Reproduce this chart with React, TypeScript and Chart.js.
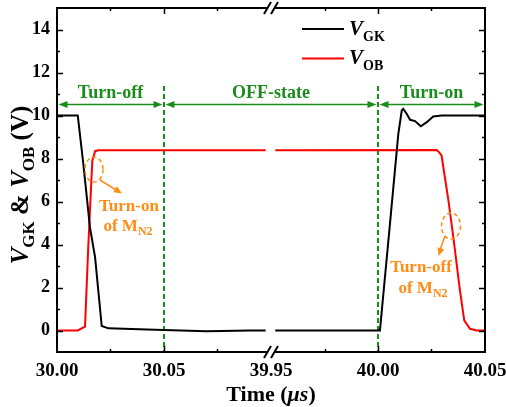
import React, { useEffect, useRef } from "react";
import { Chart, registerables } from "chart.js";
Chart.register(...registerables);

// ---- data (time in µs, voltage in V) ----
const tickTimes = [30.0, 30.05, 39.95, 40.0, 40.05];
const tickLabels = ["30.00", "30.05", "39.95", "40.00", "40.05"];
const minorTimes = [30.025, 30.075, 39.975, 40.025];
const yMajorTicks = [0, 2, 4, 6, 8, 10, 12, 14];
const yMinorTicks = [1, 3, 5, 7, 9, 11, 13];
const breakTime = 39.95;

const blackTimes = [30.0, 30.0097, 30.0123, 30.0154, 30.0178, 30.0209, 30.024, 30.0458, 30.07, 30.09, 30.0975, null,
  39.952, 40.0009, 40.0056, 40.0095, 40.0111, 40.0118, 40.0134, 40.015, 40.0173, 40.02, 40.0228, 40.0258, 40.0298, 40.05];
const blackVolts = [10, 10, 7.75, 4.8, 3.4, 0.21, 0.1, 0.03, -0.04, 0, 0, null,
  0, 0, 4.97, 9.15, 10.23, 10.31, 10.08, 9.8, 9.74, 9.5, 9.69, 9.95, 10.0, 10.0];
const redTimes = [30.0, 30.0097, 30.0131, 30.0146, 30.0165, 30.0178, 30.0193, 30.0975, null,
  39.952, 40.0274, 40.0285, 40.0297, 40.0329, 40.0352, 40.0383, 40.0403, 40.043, 40.0461, 40.05];
const redVolts = [0, 0, 0.18, 3.87, 7.9, 8.34, 8.38, 8.38, null,
  8.38, 8.4, 8.3, 8.14, 6.05, 4.34, 1.86, 0.47, 0.08, 0, 0];

const phaseBounds = [30.0, 30.05, 40.0, 40.05];
const phaseLabels = ["Turn-off", "OFF-state", "Turn-on"];

const SERIF = '"Liberation Serif", "Times New Roman", serif';
const GREEN = "#1a8c1a";
const ORANGE = "#ff8c14";

function toAxis(t: number) {
  return t < 35 ? t - 30 : t - 39.85;
}

function series(times: (number | null)[], volts: (number | null)[]) {
  return times.map((t, i) =>
    t === null ? { x: toAxis(breakTime), y: null } : { x: toAxis(t), y: volts[i] }
  );
}

type Part = { t: string; f: string; dy?: number };
function drawRich(ctx: CanvasRenderingContext2D, parts: Part[], x: number, y: number, align: string, color: string) {
  let w = 0;
  for (const p of parts) { ctx.font = p.f; w += ctx.measureText(p.t).width; }
  let cx = align === "center" ? x - w / 2 : align === "left" ? x : x - w;
  ctx.textBaseline = "alphabetic";
  ctx.textAlign = "left";
  ctx.fillStyle = color;
  for (const p of parts) {
    ctx.font = p.f;
    ctx.fillText(p.t, cx, y + (p.dy || 0));
    cx += ctx.measureText(p.t).width;
  }
}

function arrowHead(ctx: CanvasRenderingContext2D, x1: number, y1: number, x2: number, y2: number, len: number, half: number, color: string) {
  const a = Math.atan2(y2 - y1, x2 - x1);
  ctx.fillStyle = color;
  ctx.beginPath();
  ctx.moveTo(x2, y2);
  ctx.lineTo(x2 - len * Math.cos(a) + half * Math.sin(a), y2 - len * Math.sin(a) - half * Math.cos(a));
  ctx.lineTo(x2 - len * Math.cos(a) - half * Math.sin(a), y2 - len * Math.sin(a) + half * Math.cos(a));
  ctx.closePath();
  ctx.fill();
}

const overlay = {
  id: "overlay",
  beforeDatasetsDraw(chart: any) {
    const ctx = chart.ctx as CanvasRenderingContext2D;
    const xs = chart.scales.x;
    const { bottom } = chart.chartArea;
    ctx.save();
    ctx.strokeStyle = GREEN;
    ctx.lineWidth = 2;
    ctx.setLineDash([5, 3]);
    for (const t of [phaseBounds[1], phaseBounds[2]]) {
      const px = Math.round(xs.getPixelForValue(toAxis(t)));
      ctx.beginPath();
      ctx.moveTo(px, 86);
      ctx.lineTo(px, bottom);
      ctx.stroke();
    }
    ctx.restore();
  },
  afterDraw(chart: any) {
    const ctx = chart.ctx as CanvasRenderingContext2D;
    const xs = chart.scales.x;
    const ys = chart.scales.y;
    const { left, right, top, bottom } = chart.chartArea;
    ctx.save();
    // frame
    ctx.strokeStyle = "#000";
    ctx.lineWidth = 2;
    ctx.setLineDash([]);
    ctx.beginPath();
    ctx.moveTo(left, top - 1); ctx.lineTo(left, bottom + 1);
    ctx.moveTo(right, top - 1); ctx.lineTo(right, bottom + 1);
    ctx.moveTo(left - 1, top); ctx.lineTo(right + 1, top);
    ctx.moveTo(left - 1, bottom); ctx.lineTo(right + 1, bottom);
    ctx.stroke();
    // y ticks
    ctx.lineWidth = 1.5;
    ctx.beginPath();
    for (const v of yMajorTicks) {
      const py = Math.round(ys.getPixelForValue(v)) + 0.5;
      ctx.moveTo(left, py); ctx.lineTo(left + 6, py);
      ctx.moveTo(right, py); ctx.lineTo(right - 6, py);
    }
    for (const v of yMinorTicks) {
      const py = Math.round(ys.getPixelForValue(v)) + 0.5;
      ctx.moveTo(left, py); ctx.lineTo(left + 3, py);
      ctx.moveTo(right, py); ctx.lineTo(right - 3, py);
    }
    // x ticks
    for (const t of tickTimes) {
      if (t === breakTime || t === tickTimes[0] || t === tickTimes[tickTimes.length - 1]) continue;
      const px = Math.round(xs.getPixelForValue(toAxis(t))) + 0.5;
      ctx.moveTo(px, bottom); ctx.lineTo(px, bottom - 6);
      ctx.moveTo(px, top); ctx.lineTo(px, top + 6);
    }
    for (const t of minorTimes) {
      const px = Math.round(xs.getPixelForValue(toAxis(t))) + 0.5;
      ctx.moveTo(px, bottom); ctx.lineTo(px, bottom - 3);
      ctx.moveTo(px, top); ctx.lineTo(px, top + 3);
    }
    ctx.stroke();
    // break marks
    const bx = xs.getPixelForValue(toAxis(breakTime));
    for (const by of [top, bottom]) {
      ctx.fillStyle = "#fff";
      ctx.fillRect(bx - 3, by - 2, 6, 4);
      ctx.strokeStyle = "#000";
      ctx.lineWidth = 2;
      ctx.beginPath();
      for (const dx of [-3.5, 3.5]) {
        ctx.moveTo(bx + dx - 3.5, by + 6);
        ctx.lineTo(bx + dx + 3.5, by - 6);
      }
      ctx.stroke();
    }
    // phase arrows
    const ay = 104.5;
    ctx.strokeStyle = GREEN;
    ctx.lineWidth = 1.5;
    for (let i = 0; i < phaseLabels.length; i++) {
      const x1 = xs.getPixelForValue(toAxis(phaseBounds[i])) + 1.5;
      const x2 = xs.getPixelForValue(toAxis(phaseBounds[i + 1])) - 1.5;
      ctx.beginPath();
      ctx.moveTo(x1 + 4, ay); ctx.lineTo(x2 - 4, ay);
      ctx.stroke();
      arrowHead(ctx, x2, ay, x1, ay, 9, 3.5, GREEN);
      arrowHead(ctx, x1, ay, x2, ay, 9, 3.5, GREEN);
      drawRich(ctx, [{ t: phaseLabels[i], f: `bold 18px ${SERIF}` }], (x1 + x2) / 2, 98, "center", GREEN);
    }
    // orange annotations
    ctx.strokeStyle = ORANGE;
    ctx.lineWidth = 1.5;
    ctx.setLineDash([4, 3]);
    ctx.beginPath(); ctx.ellipse(94, 169.5, 9, 12.5, 0, 0, Math.PI * 2); ctx.stroke();
    ctx.beginPath(); ctx.ellipse(451, 226, 9.5, 13, 0, 0, Math.PI * 2); ctx.stroke();
    ctx.setLineDash([]);
    ctx.beginPath(); ctx.moveTo(100, 180); ctx.lineTo(117, 190.5); ctx.stroke();
    arrowHead(ctx, 100, 180, 122, 193.5, 8, 3.5, ORANGE);
    ctx.beginPath(); ctx.moveTo(445, 236); ctx.lineTo(440, 250); ctx.stroke();
    arrowHead(ctx, 445, 236, 438.5, 256, 8, 3.5, ORANGE);
    const of = `bold 17px ${SERIF}`;
    const sub = `bold 12px ${SERIF}`;
    drawRich(ctx, [{ t: "Turn-on", f: of }], 129, 211, "center", ORANGE);
    drawRich(ctx, [{ t: "of M", f: of }, { t: "N2", f: sub, dy: 4 }], 128, 231, "center", ORANGE);
    drawRich(ctx, [{ t: "Turn-off", f: of }], 421, 272, "center", ORANGE);
    drawRich(ctx, [{ t: "of M", f: of }, { t: "N2", f: sub, dy: 4 }], 423, 293, "center", ORANGE);
    // legend
    ctx.lineWidth = 2;
    ctx.strokeStyle = "#000";
    ctx.beginPath(); ctx.moveTo(302, 29); ctx.lineTo(344, 29); ctx.stroke();
    ctx.strokeStyle = "#ff0000";
    ctx.beginPath(); ctx.moveTo(302, 58.5); ctx.lineTo(344, 58.5); ctx.stroke();
    const lv = `italic bold 21px ${SERIF}`;
    const ls = `bold 14px ${SERIF}`;
    drawRich(ctx, [{ t: "V", f: lv }, { t: "GK", f: ls, dy: 6 }], 349, 35, "left", "#000");
    drawRich(ctx, [{ t: "V", f: lv }, { t: "OB", f: ls, dy: 6 }], 349, 64, "left", "#000");
    // x title
    const tb = `bold 22px ${SERIF}`;
    const ti = `italic bold 22px ${SERIF}`;
    drawRich(ctx, [{ t: "Time (", f: tb }, { t: "\u03bcs", f: ti }, { t: ")", f: tb }], (left + right) / 2, 401, "center", "#000");
    // y title
    ctx.translate(28, 185);
    ctx.rotate(-Math.PI / 2);
    const yb = `bold 25px ${SERIF}`;
    const yi = `italic bold 25px ${SERIF}`;
    const ysb = `bold 17px ${SERIF}`;
    drawRich(ctx, [
      { t: "V", f: yi }, { t: "GK", f: ysb, dy: 6 }, { t: " & ", f: yb },
      { t: "V", f: yi }, { t: "OB", f: ysb, dy: 6 }, { t: " (V)", f: yb },
    ], 0, 0, "center", "#000");
    ctx.restore();
  },
};

export default function App() {
  const ref = useRef<HTMLCanvasElement>(null);
  useEffect(() => {
    document.body.style.margin = "0";
    const chart = new Chart(ref.current as HTMLCanvasElement, {
      type: "line",
      data: {
        datasets: [
          { label: "VGK", data: series(blackTimes, blackVolts) as any, borderColor: "#000", borderWidth: 2, pointRadius: 0, tension: 0, spanGaps: false },
          { label: "VOB", data: series(redTimes, redVolts) as any, borderColor: "#ff0000", borderWidth: 2, pointRadius: 0, tension: 0, spanGaps: false },
        ],
      },
      options: {
        animation: false,
        responsive: false,
        devicePixelRatio: 1,
        layout: { padding: { top: 8, right: 21, left: 0, bottom: 0 } },
        plugins: { legend: { display: false }, tooltip: { enabled: false } },
        scales: {
          x: {
            type: "linear",
            min: 0,
            max: 0.2,
            afterBuildTicks: (s: any) => { s.ticks = tickTimes.map((t) => ({ value: toAxis(t) })); },
            afterFit: (s: any) => { s.height = 55; s.paddingLeft = 0; s.paddingRight = 0; s.paddingTop = 0; s.paddingBottom = 0; },
            grid: { display: false, drawTicks: false },
            border: { display: false },
            ticks: {
              autoSkip: false, maxRotation: 0, padding: 8, color: "#000",
              font: { family: SERIF, size: 19, weight: "bold" },
              callback: (_v: any, i: number) => tickLabels[i],
            },
          },
          y: {
            min: -1,
            max: 15,
            afterBuildTicks: (s: any) => { s.ticks = yMajorTicks.map((v) => ({ value: v })); },
            afterFit: (s: any) => { s.width = 57; s.paddingLeft = 0; s.paddingRight = 0; s.paddingTop = 0; s.paddingBottom = 0; },
            grid: { display: false, drawTicks: false },
            border: { display: false },
            ticks: {
              padding: 7, color: "#000",
              font: { family: SERIF, size: 18, weight: "bold" },
              callback: (v: any) => String(v),
            },
          },
        },
      } as any,
      plugins: [overlay],
    });
    return () => chart.destroy();
  }, []);
  return (
    <div style={{ width: 506, height: 407 }}>
      <canvas ref={ref} width={506} height={407} />
    </div>
  );
}
